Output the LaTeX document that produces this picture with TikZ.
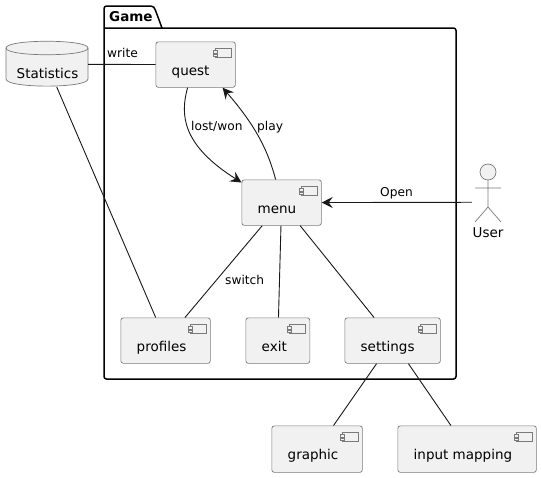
\documentclass[tikz,border=0pt]{standalone}
\usepackage{fontspec}
\setmainfont{DejaVu Sans}
\usetikzlibrary{arrows.meta,calc}
\definecolor{boxfill}{HTML}{F1F1F1}
\definecolor{boxline}{HTML}{7A7A7A}
\definecolor{conn}{HTML}{181818}
\tikzset{
  compbox/.style={draw=boxline,fill=boxfill,line width=0.7pt,rounded corners=2.5pt,inner sep=0pt,anchor=north west},
  complabel/.style={anchor=base west,inner sep=0pt,font=\fontsize{13.5}{16}\selectfont,text=black},
  edgelabel/.style={inner sep=0pt,font=\fontsize{12.2}{15}\selectfont,text=black},
  conline/.style={draw=conn,line width=0.9pt},
  conarrow/.style={conline,-{Stealth[length=11pt,width=11pt,inset=4pt]}},
  iconline/.style={draw=boxline,line width=0.7pt,fill=boxfill},
}
\newcommand{\compnode}[6]{%
  \node[compbox,minimum width=#4 pt-#2 pt,minimum height=#5 pt-#3 pt] (#1) at (#2,#3) {};
  \node[complabel] (#1label) at (#2+16,#3+33.5) {#6};
  \draw[iconline] (#4-20,#3+7) rectangle (#4-4,#3+16);
  \draw[iconline] (#4-22,#3+9) rectangle (#4-18,#3+11.5);
  \draw[iconline] (#4-22,#3+12.5) rectangle (#4-18,#3+15);
}
\begin{document}
\begin{tikzpicture}[x=1pt,y=-1pt]
\useasboundingbox (0,0) rectangle (541,477);
\fill[white] (0,0) rectangle (541,477);
% package
\draw[black,line width=1.5pt,fill=white,line join=round]
  (104,28) -- (104,9) [rounded corners=2.5pt] -- (104,6) -- (153,6) -- (155,9) [sharp corners] -- (162,28) -- (104,28)
  (162,28) [rounded corners=2.5pt] -- (456,28) -- (456,379) -- (104,379) [sharp corners] -- (104,28);
\node[anchor=base west,inner sep=0pt,font=\fontsize{13.5}{16}\bfseries\selectfont] (gamelabel) at (109,21) {Game};
% components
\compnode{quest}{155.5}{41.5}{235}{87}{quest}
\compnode{menu}{241.5}{179.5}{321}{225}{menu}
\compnode{profiles}{120.5}{317.5}{210}{363}{profiles}
\compnode{exit}{245.5}{317.5}{309.5}{363}{exit}
\compnode{settings}{344.5}{317.5}{440}{363}{settings}
\compnode{graphic}{271.5}{425.5}{362}{472}{graphic}
\compnode{inputmap}{397.5}{425.5}{536}{472}{input mapping}
% database
\node[minimum width=82pt,minimum height=45pt,inner sep=0pt] (stats) at (47,64.25) {};
\draw[draw=boxline,fill=boxfill,line width=0.7pt]
  (6,48) .. controls (6,39) and (88,39) .. (88,48)
  -- (88,79) .. controls (88,88.5) and (6,88.5) .. (6,79) -- cycle;
\draw[draw=boxline,line width=0.7pt] (6,48) .. controls (6,57) and (88,57) .. (88,48);
\node[complabel] (statslabel) at (16.5,78) {Statistics};
% actor
\node[minimum width=32pt,minimum height=76pt,inner sep=0pt] (user) at (488,202.25) {};
\draw[iconline,fill=boxfill] (488,172) circle (8);
\draw[draw=boxline,line width=0.7pt]
  (488,180) -- (488,207) (475,188) -- (501,188) (475,222) -- (488,207) -- (501,222);
\node[complabel,anchor=base] (userlabel) at (488,237) {User};
% connectors
\draw[conline] (stats) -- (quest);
\draw[conline] (stats) -- (profiles);
\draw[conline] (menu) -- (profiles);
\draw[conline] (menu) -- (exit);
\draw[conline] (menu) -- (settings);
\draw[conline] (settings) -- (graphic);
\draw[conline] (settings) -- (inputmap);
\draw[conarrow] (user) -- (menu);
\draw[conarrow] ($(quest.south)+(-8,0)$) .. controls (180,115) and (182,145) .. ($(menu.north west)+(0,3)$);
\draw[conarrow] ($(menu.north)+(-6,0)$) .. controls (268,150) and (255,125) .. ($(quest.south)+(27,0)$);
% edge labels
\node[edgelabel,anchor=base west] (lwrite) at (107,57) {write};
\node[edgelabel,anchor=base west] (llost) at (191,130) {lost/won};
\node[edgelabel,anchor=base west] (lplay) at (257,130) {play};
\node[edgelabel,anchor=base west] (lopen) at (380,196) {Open};
\node[edgelabel,anchor=base west] (lswitch) at (225,284) {switch};
\end{tikzpicture}
\end{document}
